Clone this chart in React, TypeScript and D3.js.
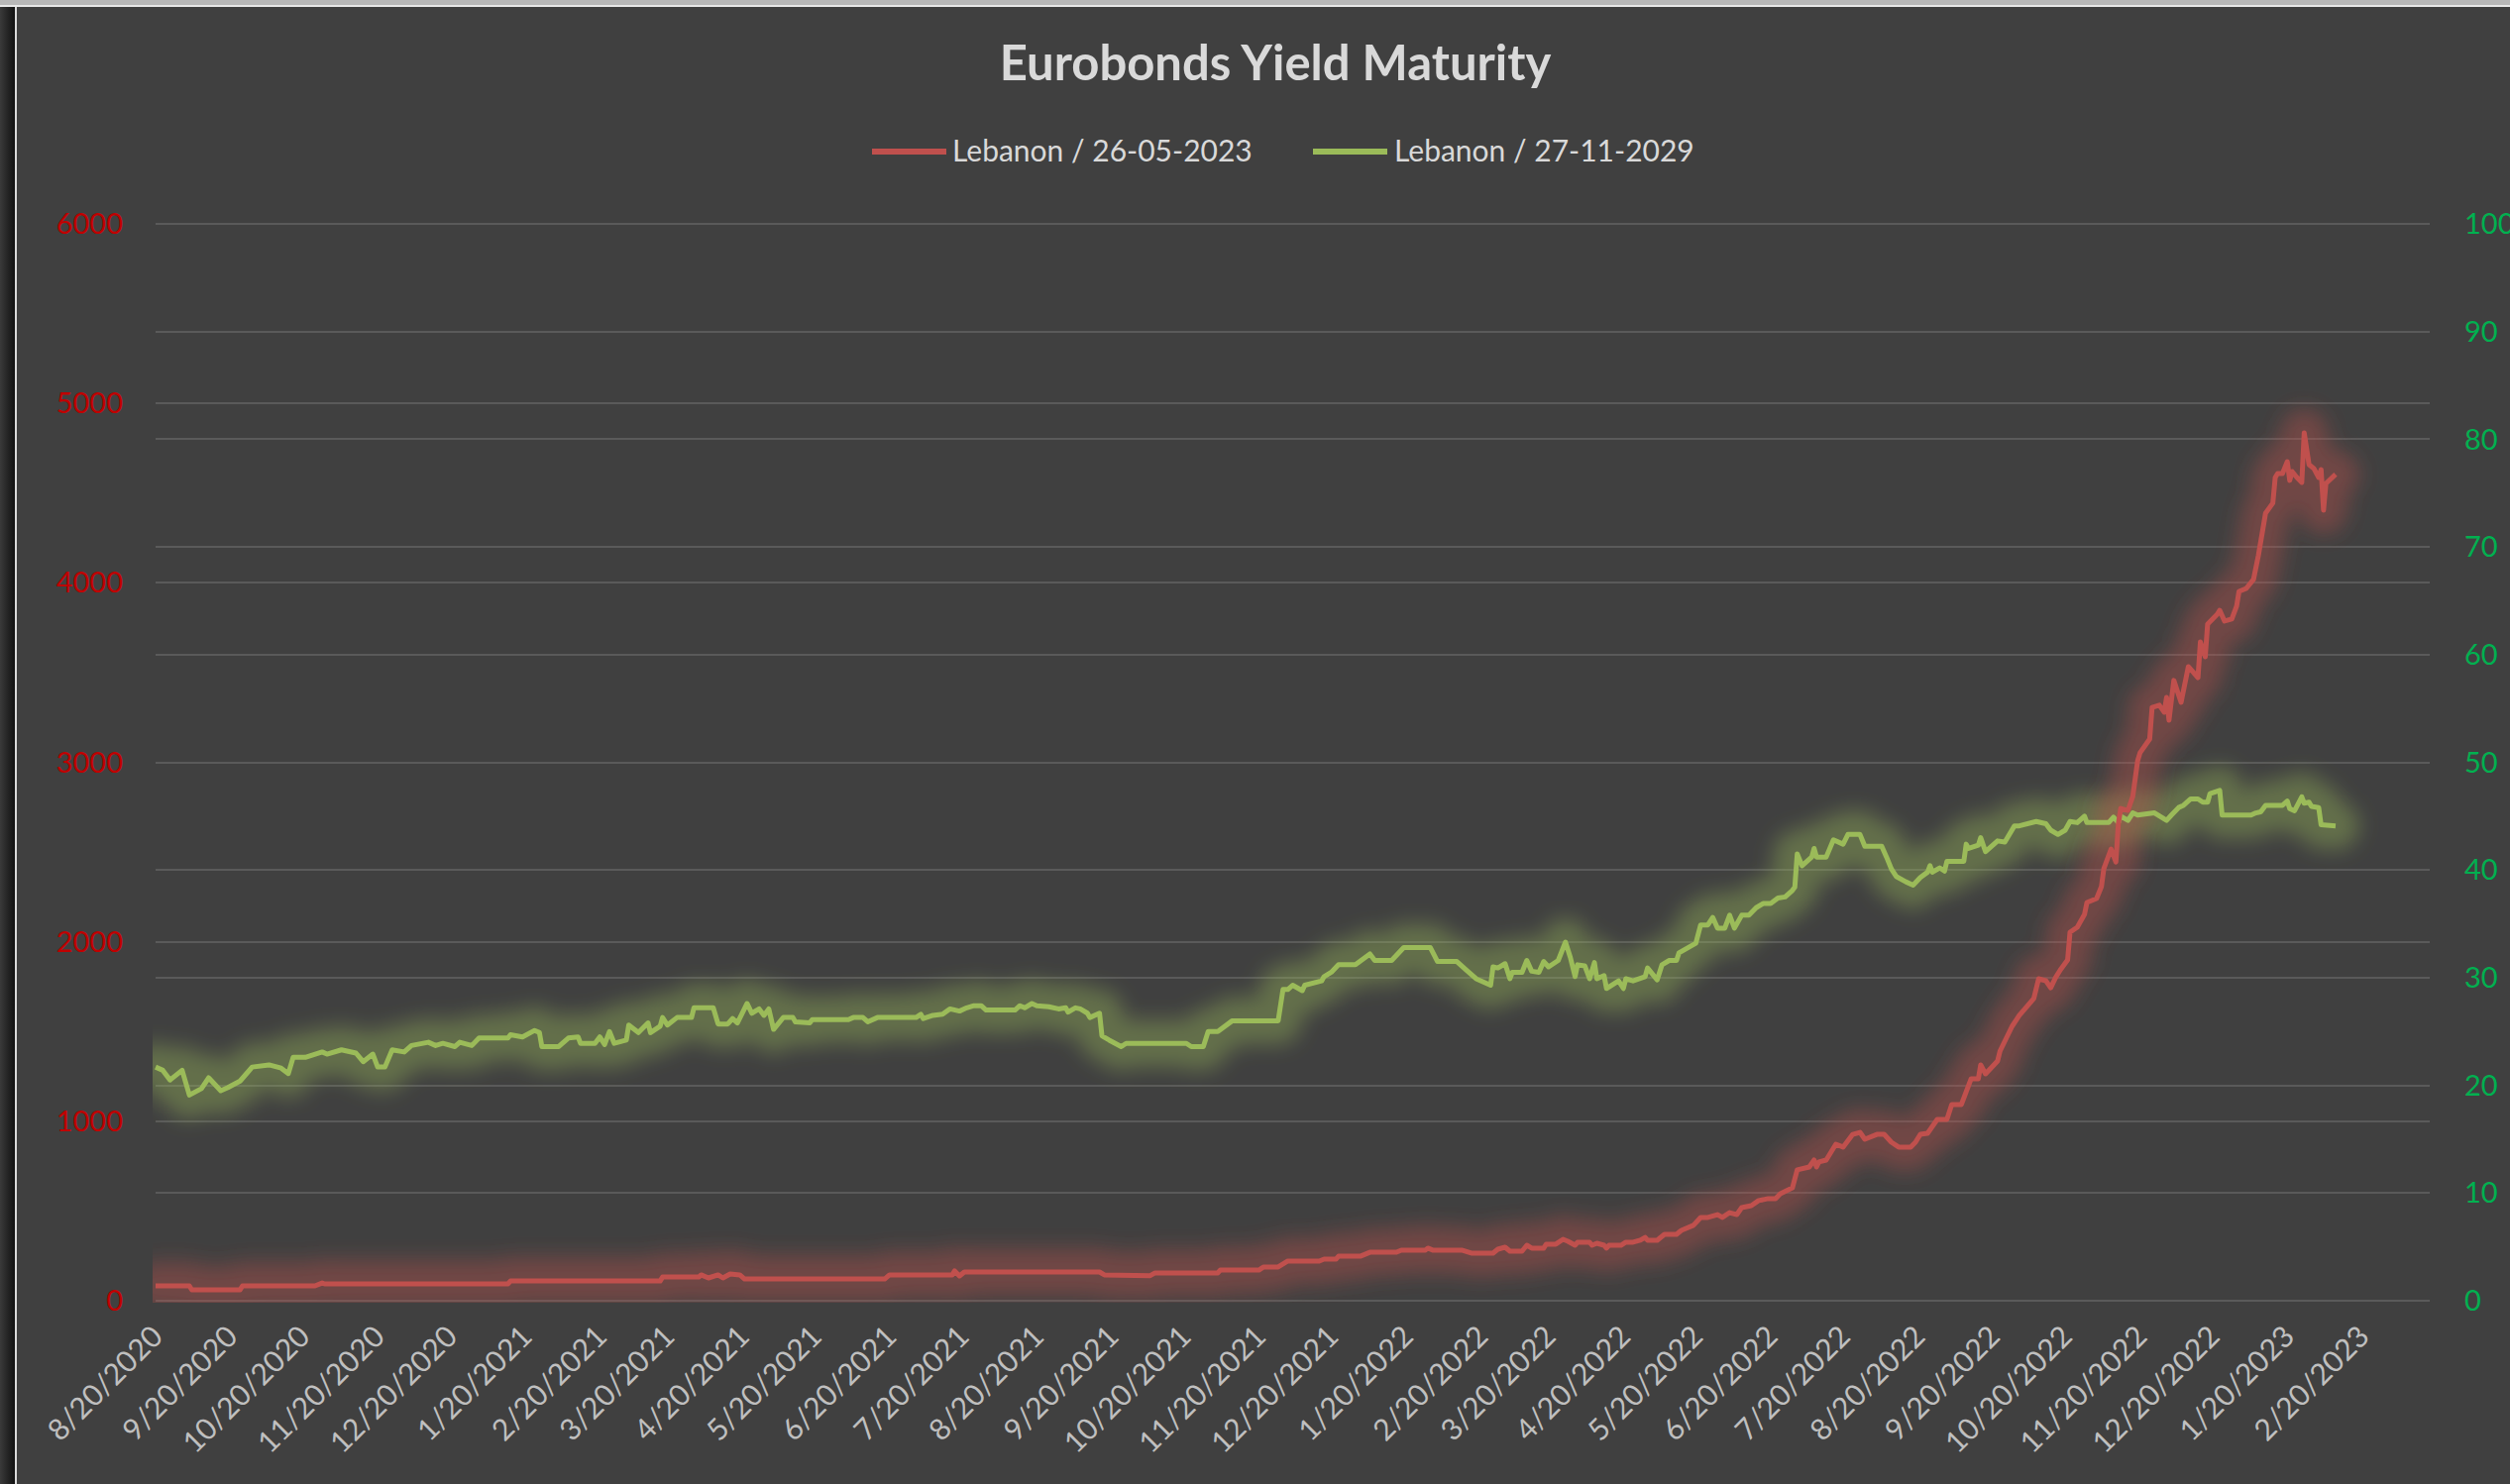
import React, { useEffect } from "react";
import * as d3 from "d3";

const chartTitle = "Eurobonds Yield Maturity";
const seriesNames = ["Lebanon / 26-05-2023", "Lebanon / 27-11-2029"];
const startDate = new Date(2020, 7, 20);

// x labels on the date axis (one per month)
const tickLabels = [
  "8/20/2020", "9/20/2020", "10/20/2020", "11/20/2020", "12/20/2020",
  "1/20/2021", "2/20/2021", "3/20/2021", "4/20/2021", "5/20/2021", "6/20/2021",
  "7/20/2021", "8/20/2021", "9/20/2021", "10/20/2021", "11/20/2021", "12/20/2021",
  "1/20/2022", "2/20/2022", "3/20/2022", "4/20/2022", "5/20/2022", "6/20/2022",
  "7/20/2022", "8/20/2022", "9/20/2022", "10/20/2022", "11/20/2022", "12/20/2022",
  "1/20/2023", "2/20/2023",
];
const leftTicks = [0, 1000, 2000, 3000, 4000, 5000, 6000];
const rightTicks = [0, 10, 20, 30, 40, 50, 60, 70, 80, 90, 100];

// Lebanon 2023 bond (left axis), days after 8/20/2020
const redDays = [
  0, 14, 15, 35, 36, 66, 69, 70, 146, 147, 209, 210, 225, 226, 229, 233, 235, 238, 242, 244,
  302, 304, 330, 331, 333, 335, 391, 393, 412, 414, 440, 441, 457, 459, 465, 469, 482, 484,
  489, 490, 499, 503, 514, 516, 526, 527, 529, 541, 545, 554, 556, 559, 561, 566, 568, 570,
  575, 576, 580, 583, 585, 588, 589, 594, 595, 597, 600, 601, 602, 607, 609, 612, 615, 617,
  618, 622, 625, 630, 632, 637, 640, 643, 647, 649, 652, 655, 657, 661, 664, 668, 671, 673,
  678, 680, 685, 687, 688, 689, 692, 696, 699, 703, 706, 708, 713, 716, 719, 722, 727, 729,
  731, 734, 738, 742, 744, 748, 752, 755, 756, 758, 763, 764, 769, 772, 778, 780, 783, 785,
  787, 789, 792, 793, 796, 799, 800, 804, 806, 807, 810, 812, 813, 814, 817, 819, 821, 822,
  826, 827, 830, 832, 833, 834, 836, 839, 842, 846, 847, 849, 850, 854, 855, 857, 860, 862,
  863, 866, 869, 870, 871, 874, 877, 878, 879, 881, 883, 884, 885, 887, 889, 890, 892, 894,
  896, 897, 898, 899, 903,
];
const redYield = [
  83, 83, 61, 61, 83, 83, 99, 94, 94, 110, 110, 132, 132, 144, 127, 144, 127, 149, 144, 121,
  121, 144, 144, 166, 138, 160, 160, 144, 140, 155, 155, 171, 171, 188, 188, 221, 221, 232,
  232, 248, 248, 270, 270, 282, 282, 293, 282, 282, 265, 265, 287, 298, 276, 276, 309, 293,
  293, 315, 315, 342, 331, 309, 326, 326, 309, 320, 309, 293, 309, 309, 326, 326, 337, 353,
  337, 337, 370, 370, 392, 420, 464, 464, 480, 464, 491, 480, 519, 530, 558, 569, 569, 596,
  629, 729, 745, 784, 745, 773, 784, 872, 856, 927, 938, 900, 927, 927, 883, 856, 856, 883,
  927, 933, 1010, 1010, 1093, 1093, 1236, 1236, 1314, 1264, 1336, 1391, 1529, 1590, 1684, 1794, 1783, 1744,
  1800, 1844, 1899, 2053, 2081, 2153, 2219, 2241, 2307, 2407, 2517, 2445, 2655, 2743, 2732, 2810, 3008, 3053,
  3130, 3306, 3318, 3279, 3362, 3235, 3456, 3334, 3533, 3472, 3671, 3588, 3770, 3825, 3847, 3787, 3798, 3870,
  3952, 3969, 4019, 4085, 4151, 4388, 4444, 4587, 4609, 4609, 4675, 4571, 4620, 4587, 4560, 4836, 4659, 4637,
  4587, 4631, 4405, 4554, 4604,
];

// Lebanon 2029 bond (right axis)
const greenDays = [
  0, 3, 6, 11, 14, 19, 22, 27, 30, 35, 40, 47, 52, 55, 57, 62, 69, 71, 77, 83, 86, 90, 92, 95,
  98, 103, 106, 113, 116, 119, 124, 126, 131, 134, 146, 147, 152, 157, 159, 160, 167, 171, 175, 176,
  182, 184, 186, 188, 190, 195, 196, 200, 204, 205, 209, 210, 212, 216, 222, 223, 231, 233, 237, 239,
  241, 245, 247, 250, 252, 254, 256, 260, 264, 265, 271, 272, 287, 289, 293, 295, 299, 315, 317, 318,
  322, 326, 329, 333, 336, 339, 342, 344, 356, 358, 360, 363, 365, 370, 374, 377, 378, 381, 383, 386,
  387, 391, 392, 395, 400, 402, 427, 429, 434, 436, 440, 446, 465, 467, 469, 471, 475, 476, 483, 484,
  487, 490, 497, 503, 505, 512, 517, 528, 531, 539, 543, 547, 553, 554, 556, 559, 561, 562, 566, 568,
  570, 573, 575, 577, 581, 584, 586, 588, 589, 592, 594, 596, 597, 600, 601, 606, 608, 609, 612, 617,
  618, 622, 624, 627, 630, 631, 638, 640, 643, 645, 647, 650, 652, 654, 657, 660, 663, 666, 669, 672,
  675, 678, 679, 680, 682, 686, 687, 688, 692, 695, 699, 701, 706, 708, 715, 717, 719, 721, 725, 728,
  731, 734, 735, 736, 739, 741, 742, 749, 750, 751, 755, 756, 758, 763, 766, 770, 772, 779, 783, 785,
  788, 791, 793, 796, 799, 800, 809, 811, 813, 814, 817, 819, 821, 828, 833, 835, 838, 840, 843, 846,
  848, 850, 851, 855, 856, 868, 870, 872, 874, 881, 883, 884, 886, 889, 890, 892, 893, 896, 897, 903,
];
const greenPrice = [
  21.7, 21.4, 20.5, 21.4, 19.1, 19.7, 20.7, 19.5, 19.8, 20.4, 21.7, 21.9, 21.6, 21.1, 22.6, 22.6, 23.1, 22.9, 23.3, 23.0, 22.2, 22.9, 21.7, 21.7,
  23.3, 23.1, 23.7, 24.0, 23.7, 23.9, 23.6, 24.0, 23.7, 24.4, 24.4, 24.7, 24.5, 25.1, 24.9, 23.6, 23.6, 24.4, 24.5, 23.9,
  23.9, 24.5, 23.8, 25.0, 23.9, 24.2, 25.6, 24.9, 25.8, 24.9, 25.5, 26.3, 25.6, 26.3, 26.3, 27.2, 27.2, 25.7, 25.7, 26.2,
  25.8, 27.6, 26.7, 27.1, 26.5, 27.1, 25.2, 26.3, 26.3, 25.9, 25.8, 26.1, 26.1, 26.3, 26.3, 25.9, 26.3, 26.3, 26.6, 26.2,
  26.5, 26.6, 27.1, 26.9, 27.2, 27.4, 27.4, 27.0, 27.0, 27.4, 27.2, 27.6, 27.4, 27.3, 27.1, 27.2, 26.8, 27.2, 27.1, 26.7,
  26.3, 26.7, 24.6, 24.2, 23.6, 23.9, 23.9, 23.6, 23.6, 25.0, 25.0, 26.0, 26.0, 28.9, 28.9, 29.3, 28.8, 29.3, 29.7, 30.1,
  30.5, 31.2, 31.2, 32.2, 31.6, 31.6, 32.8, 32.8, 31.5, 31.5, 30.7, 29.9, 29.3, 31.0, 30.9, 31.3, 29.9, 30.5, 30.5, 31.6,
  30.6, 30.5, 31.5, 31.0, 31.6, 33.3, 31.9, 30.1, 31.2, 31.1, 29.9, 31.4, 29.9, 30.2, 29.0, 29.7, 29.0, 29.9, 29.7, 30.1,
  30.9, 29.8, 31.2, 31.6, 31.6, 32.3, 33.2, 34.9, 34.9, 35.6, 34.6, 34.6, 35.8, 34.6, 35.8, 35.8, 36.5, 36.9, 36.9, 37.4,
  37.5, 38.1, 38.4, 41.5, 40.4, 41.2, 42.0, 41.2, 41.2, 42.8, 42.4, 43.3, 43.3, 42.2, 42.2, 41.2, 40.1, 39.4, 38.9, 38.6,
  39.3, 39.8, 40.4, 39.8, 40.2, 39.9, 40.8, 40.8, 42.4, 42.0, 42.3, 43.0, 41.7, 42.7, 42.6, 44.1, 44.1, 44.5, 44.3, 43.7,
  43.3, 43.7, 44.5, 44.4, 45.0, 44.4, 44.4, 44.9, 44.4, 45.0, 44.6, 45.3, 45.1, 45.3, 44.6, 45.1, 45.8, 46.0, 46.6, 46.6,
  46.3, 46.3, 47.1, 47.4, 45.1, 45.1, 45.3, 45.4, 46.0, 46.0, 46.4, 45.7, 45.5, 46.8, 46.2, 46.3, 45.9, 45.8, 44.2, 44.1,
];

const W = 2533;
const H = 1498;
const FONT = "Lato, 'Open Sans', sans-serif";
const RED = "#C0504D";
const GREEN = "#9BBB59";

export default function App() {
  useEffect(() => {
    document.body.style.margin = "0";
    document.body.style.background = "#404040";
  }, []);

  const plotLeft = 157, plotRight = 2452, plotTop = 226, plotBottom = 1313;
  const parse = d3.timeParse("%m/%d/%Y");
  const tickDates = tickLabels.map(s => parse(s) as Date);

  const x = d3.scaleTime()
    .domain([startDate, new Date(2023, 2, 20)])
    .range([plotLeft, plotRight]);
  const yLeft = d3.scaleLinear().domain([0, 6000]).range([plotBottom, plotTop]);
  const yRight = d3.scaleLinear().domain([0, 100]).range([plotBottom, plotTop]);

  const red = redDays.map((d, i) => ({ date: d3.timeDay.offset(startDate, d), v: redYield[i] }));
  const green = greenDays.map((d, i) => ({ date: d3.timeDay.offset(startDate, d), v: greenPrice[i] }));

  const redLine = d3.line<{ date: Date; v: number }>().x(d => x(d.date)).y(d => yLeft(d.v))(red) || "";
  const greenLine = d3.line<{ date: Date; v: number }>().x(d => x(d.date)).y(d => yRight(d.v))(green) || "";

  const gridYs = Array.from(new Set([
    ...leftTicks.map(t => Math.round(yLeft(t))),
    ...rightTicks.map(t => Math.round(yRight(t))),
  ]));

  return (
    <svg width={W} height={H} style={{ display: "block" }}>
      <defs>
        <filter id="glow" filterUnits="userSpaceOnUse" x="0" y="0" width={W} height={H}>
          <feGaussianBlur stdDeviation="10" />
        </filter>
        <clipPath id="plotClip">
          <rect x={plotLeft - 3} y={plotTop - 60} width={plotRight - plotLeft + 3} height={plotBottom - plotTop + 62} />
        </clipPath>
        <linearGradient id="edge" x1="0" x2="1" y1="0" y2="0">
          <stop offset="0" stopColor="#3a3a3a" />
          <stop offset="1" stopColor="#111" />
        </linearGradient>
      </defs>
      {/* screenshot frame */}
      <rect x={0} y={0} width={W} height={H} fill="#404040" />
      <rect x={0} y={0} width={15} height={H} fill="url(#edge)" />
      <rect x={15} y={0} width={2} height={H} fill="#d9d9d9" />
      <rect x={0} y={0} width={W} height={6} fill="#b8b8b8" />
      <rect x={0} y={5} width={W} height={2} fill="#e8e8e8" />

      <text x={1287} y={81} textAnchor="middle" fill="#d9d9d9" fontFamily={FONT}
        fontWeight="bold" fontSize={49}>{chartTitle}</text>

      {/* legend */}
      <g fontFamily={FONT} fontSize={30} fill="#d9d9d9">
        <line x1={880} x2={955} y1={153} y2={153} stroke={RED} strokeWidth={6} />
        <text x={961} y={163}>{seriesNames[0]}</text>
        <line x1={1325} x2={1400} y1={153} y2={153} stroke={GREEN} strokeWidth={6} />
        <text x={1407} y={163}>{seriesNames[1]}</text>
      </g>

      {/* gridlines */}
      {gridYs.map(y => (
        <line key={y} x1={plotLeft} x2={plotRight} y1={y} y2={y} stroke="#5a5a5a" strokeWidth={2} />
      ))}

      {/* left axis */}
      <g fontFamily={FONT} fontSize={29} fill="#c00000" textAnchor="end">
        {leftTicks.map(t => (
          <text key={t} x={124} y={yLeft(t)} dy="0.35em">{t}</text>
        ))}
      </g>
      {/* right axis */}
      <g fontFamily={FONT} fontSize={29} fill="#00b050" textAnchor="start">
        {rightTicks.map(t => (
          <text key={t} x={2487} y={yRight(t)} dy="0.35em">{t}</text>
        ))}
      </g>
      {/* x axis */}
      <g fontFamily={FONT} fontSize={30} fill="#bfbfbf" textAnchor="end">
        {tickDates.map((d, i) => (
          <text key={i} transform={`translate(${x(d) + 9},${plotBottom + 38}) rotate(-45)`}>
            {tickLabels[i]}
          </text>
        ))}
      </g>

      {/* glow */}
      <g clipPath="url(#plotClip)">
        <path d={greenLine} fill="none" stroke={GREEN} strokeOpacity={0.38} strokeWidth={48}
          strokeLinejoin="round" strokeLinecap="round" filter="url(#glow)" />
        <path d={redLine} fill="none" stroke={RED} strokeOpacity={0.38} strokeWidth={48}
          strokeLinejoin="round" strokeLinecap="round" filter="url(#glow)" />
      </g>
      {/* lines */}
      <path d={greenLine} fill="none" stroke={GREEN} strokeWidth={5} strokeLinejoin="round" />
      <path d={redLine} fill="none" stroke={RED} strokeWidth={5} strokeLinejoin="round" />
    </svg>
  );
}
